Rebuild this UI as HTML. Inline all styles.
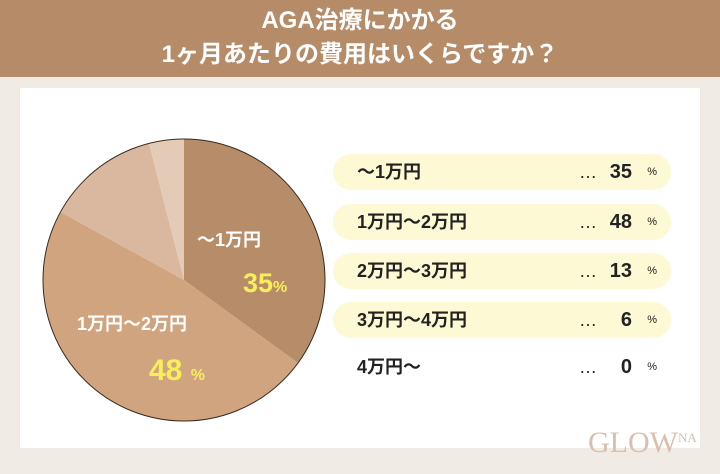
<!DOCTYPE html>
<html><head><meta charset="utf-8"><style>
body{margin:0;width:720px;height:474px;overflow:hidden;background:#f1ebe5;font-family:"Liberation Sans","Noto Sans CJK JP",sans-serif;position:relative}
.hdr{position:absolute;left:0;top:0;width:720px;height:77px;background:#b58b68;color:#fff;text-align:center;font-weight:bold;font-size:24px;line-height:34px;padding-top:4px;box-sizing:border-box}
.panel{position:absolute;left:20px;top:88px;width:680px;height:360px;background:#fff}
.pill{position:absolute;left:333px;width:338px;height:36px;border-radius:18px;background:#fdf9d4}
.row{position:absolute;left:357px;width:310px;font-size:18px;font-weight:bold;color:#222;line-height:20px}
.row .d{position:absolute;left:222px;font-weight:normal}
.row .n{position:absolute;right:35px;font-size:20px}
.row .p{position:absolute;right:10px;font-size:11px;font-weight:normal}
</style></head><body>
<div class="hdr">AGA治療にかかる<br>1ヶ月あたりの費用はいくらですか？</div>
<div class="panel"></div>
<svg style="position:absolute;left:0;top:0" width="720" height="474">
<path d="M184 280 L184 139 A141 141 0 0 1 298 363 Z" fill="#b78c69"/>
<path d="M184 280 L298 363 A141 141 0 0 1 60.5 212 Z" fill="#cfa47f"/>
<path d="M184 280 L60.5 212 A141 141 0 0 1 149 143.4 Z" fill="#d9b89f"/>
<path d="M184 280 L149 143.4 A141 141 0 0 1 184 139 Z" fill="#e4cbb8"/>
<circle cx="184" cy="280" r="141" fill="none" stroke="#3a2a20" stroke-width="1"/>
<text x="197" y="246" fill="#fff" font-size="18" font-weight="bold" font-family="Liberation Sans,Noto Sans CJK JP,sans-serif">～1万円</text>
<text x="243" y="292" fill="#f7ef5a" font-size="27" font-weight="bold" font-family="Liberation Sans,sans-serif">35<tspan font-size="16">%</tspan></text>
<text x="77" y="330" fill="#fff" font-size="18" font-weight="bold" font-family="Liberation Sans,Noto Sans CJK JP,sans-serif">1万円～2万円</text>
<text x="149" y="380" fill="#f7ef5a" font-size="30" font-weight="bold" font-family="Liberation Sans,sans-serif">48 <tspan font-size="16">%</tspan></text>
<text x="588" y="452" fill="#d8bfae" font-size="30" font-family="Liberation Serif,serif">GLOW<tspan font-size="13" dy="-10">NA</tspan></text>
</svg>
<div class="pill" style="top:154px"></div>
<div class="pill" style="top:204px"></div>
<div class="pill" style="top:253px"></div>
<div class="pill" style="top:302px"></div>
<div class="row" style="top:162px">～1万円<span class="d">…</span><span class="n">35</span><span class="p">%</span></div>
<div class="row" style="top:212px">1万円～2万円<span class="d">…</span><span class="n">48</span><span class="p">%</span></div>
<div class="row" style="top:261px">2万円～3万円<span class="d">…</span><span class="n">13</span><span class="p">%</span></div>
<div class="row" style="top:310px">3万円～4万円<span class="d">…</span><span class="n">6</span><span class="p">%</span></div>
<div class="row" style="top:357px">4万円～<span class="d">…</span><span class="n">0</span><span class="p">%</span></div>
</body></html>
